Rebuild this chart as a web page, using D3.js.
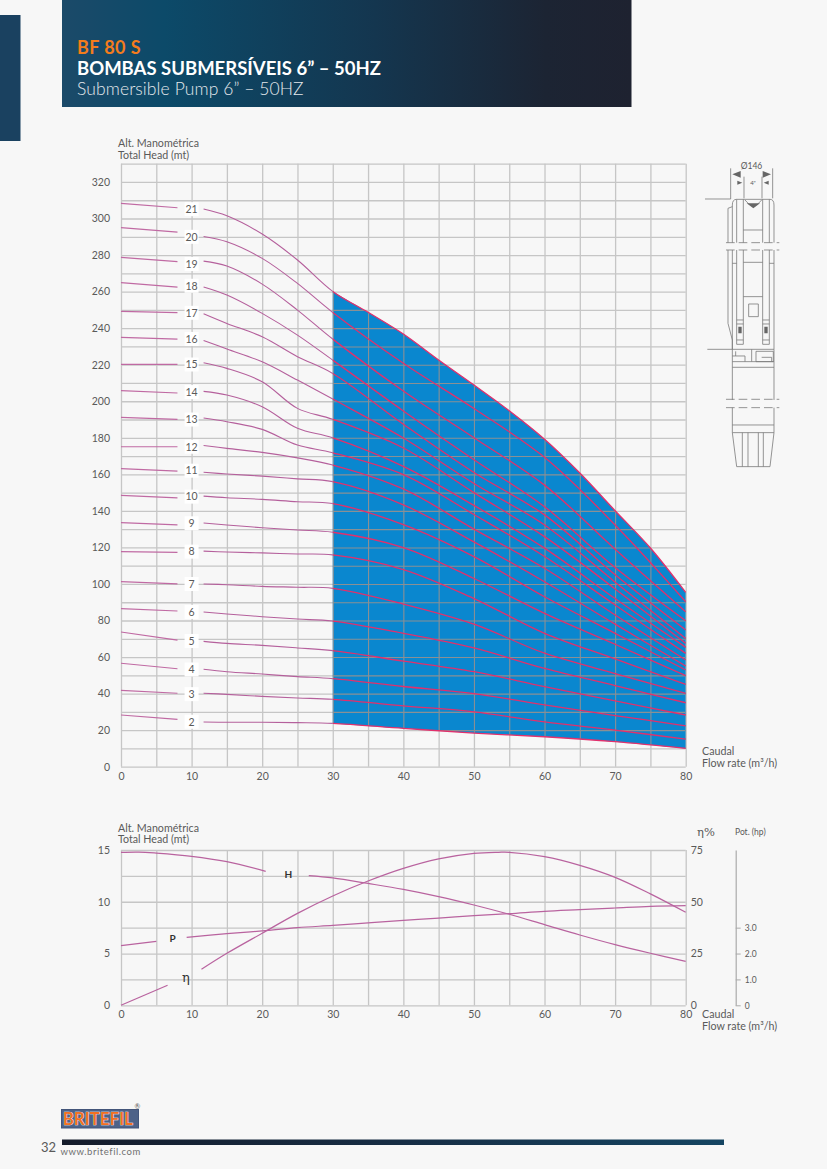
<!DOCTYPE html>
<html><head><meta charset="utf-8">
<script src="https://cdn.jsdelivr.net/npm/d3@7/dist/d3.min.js"></script>
<style>
html,body{margin:0;padding:0;background:#f7f7f7}
svg{display:block}
text{font-family:Lato,"Open Sans",sans-serif;fill:#5a5a5a}
</style></head><body><div id="chart"></div>
<script>
// ---------- data ----------
const flowTicks=[0,10,20,30,40,50,60,70,80];
const headTicksMain=d3.range(0,331,10);
const flow=[0,8,11.7,15,20,25,30,40,50,60,70,80];
const flow21=[0,8,11.7,15,20,25,30,35,40,45,50,55,60,65,70,75,80];
const stage2=[28.3,25.9,24.5,24.3,24.3,24.1,23.7,21,18.4,16.4,13.7,10];
const stage3=[41.8,40.2,40.2,39.6,38.5,37.6,36.9,33.3,30,24.5,20,15.1];
const stage4=[56.6,53.6,53.3,52,50.7,49.3,48.2,43.9,40,33.8,28,22.4];
const stage5=[73.7,69.3,68.6,67.5,66.4,65,63.5,57.8,52,43.8,36,28.3];
const stage6=[86.5,85.2,84.7,83.6,82.1,80.8,79.7,73,65,53.8,44.4,35];
const stage7=[101.3,100,100,99.6,98.7,98.2,97.6,89,78,62.1,51,40.1];
const stage8=[117.7,117.3,118,117.5,117,116.4,115.9,107.9,92,73,59,45];
const stage9=[133.6,132.3,133.4,132.3,130.8,129.5,128.3,119.9,103,83.9,67,49.8];
const stage10=[148.5,147.1,148.1,147.2,146.3,145,144,132.5,115,93,73,52.9];
const stage11=[163.1,161.8,161.1,160.2,159,157.5,156,143.3,123,101.2,78,55.1];
const stage12=[175.1,175.1,175.8,174.2,172,169,165.1,152,130,108.6,83,58.4];
const stage13=[191.2,190.1,190.8,188.8,184.6,176,171.8,159.8,138,115,88.5,62];
const stage14=[205.8,204.5,205.4,203.4,197,185.2,180,164.4,143,119.6,92,65.3];
const stage15=[220.2,220.2,221.1,218,210.7,196.1,190.1,174.4,150,125.9,97.3,67.5];
const stage16=[234.9,234,233.3,228.6,221.6,211.6,201.2,179.9,155,132.3,101,70.2];
const stage17=[249.2,248.5,247.9,242.6,235.3,224.4,215.2,187.4,161,137.8,105,74.8];
const stage18=[264.9,262.5,262.5,258.1,248.1,236.2,222.5,194.7,168,142.3,109,79.9];
const stage19=[278.7,276.4,276.7,274,264.1,249.9,234,205.6,180,154.1,119,84.8];
const stage20=[295,292.6,290.2,287.3,278.2,264.5,248.6,220.8,196,169.3,132.3,90.3];
const stage21=[308.3,305.9,305.2,301.5,291.5,277.3,260.1,248.7,236.8,222.6,208.9,194.8,179.2,160.7,140.1,119.7,95.4];
const stageNames=[2,3,4,5,6,7,8,9,10,11,12,13,14,15,16,17,18,19,20,21];
const stageHeads=[stage2,stage3,stage4,stage5,stage6,stage7,stage8,stage9,stage10,stage11,stage12,stage13,stage14,stage15,stage16,stage17,stage18,stage19,stage20,stage21];
const stageLabelHead=[24.6,39.7,53.2,68.8,84.7,100,117.7,133.2,147.8,162,175.1,190,205,220.1,234.1,248.4,263.2,275.1,290,305.1];

const hFlow=[0,2.5,5,10,15,20.5,26.6,30,35,40,45,50,55,60,65,70,75,80];
const hHead=[14.77,14.8,14.7,14.39,13.87,12.94,12.52,12.3,11.77,11.2,10.5,9.69,8.79,7.79,6.79,5.86,5.03,4.25];
const pFlow=[0,5,9.3,15,20,25,30,35,40,45,50,55,60,65,70,75,80];
const pHead=[5.76,6.18,6.57,6.92,7.18,7.5,7.72,7.96,8.2,8.42,8.66,8.85,9.08,9.24,9.4,9.56,9.62];
const etaFlow=[0,6.6,11.4,15,20,25,30,35,40,45,50,53.5,55,60,65,70,75,80];
const etaPct=[0,9.66,17.4,25.1,34.8,44.4,52.8,60,66.1,70.7,73.4,73.9,73.9,71.8,67.6,61.8,53.8,44.9];
const etaTicks=[0,25,50,75];
const potTicks=[0,1,2,3];

// ---------- page ----------
const W=827,H=1169;
const svg=d3.select('#chart').append('svg').attr('width',W).attr('height',H);
const defs=svg.append('defs');
const g1=defs.append('linearGradient').attr('id','hdr');
[[0,'#1b4a69'],[0.18,'#0c4a69'],[0.55,'#14364f'],[0.85,'#1c2433'],[1,'#1e2230']].forEach(s=>g1.append('stop').attr('offset',s[0]).attr('stop-color',s[1]));
const g2=defs.append('linearGradient').attr('id','bar');
[[0,'#151c2b'],[0.5,'#172d44'],[1,'#154562']].forEach(s=>g2.append('stop').attr('offset',s[0]).attr('stop-color',s[1]));

svg.append('rect').attr('width',W).attr('height',H).attr('fill','#f7f7f7');
svg.append('rect').attr('x',0).attr('y',15).attr('width',20.5).attr('height',126).attr('fill','#1a4160');
svg.append('rect').attr('x',62).attr('y',0).attr('width',569.5).attr('height',107).attr('fill','url(#hdr)');
svg.append('text').attr('x',77).attr('y',53.5).text('BF 80 S').style('font-size','18px').style('font-weight',700).style('letter-spacing','.4px').style('fill','#f47c1c');
svg.append('text').attr('x',77).attr('y',74.5).text('BOMBAS SUBMERSÍVEIS 6” – 50HZ').style('font-size','18.5px').style('font-weight',700).style('fill','#fff');
svg.append('text').attr('x',77).attr('y',95).text('Submersible Pump 6” – 50HZ').style('font-size','17.5px').style('font-weight',300).style('letter-spacing','.1px').style('fill','#e4e8ec');

// ---------- main chart ----------
const xL=121,xR=685.7,yB=766.7,yT=163.7;
const x=d3.scaleLinear().domain([0,80]).range([xL,xR]);
const y=d3.scaleLinear().domain([0,330]).range([yB,yT]);
const smooth=d3.curveCatmullRom.alpha(0.5);
const line=d3.line().x(d=>x(d[0])).y(d=>y(d[1])).curve(smooth);
const zip=(a,b)=>a.map((v,i)=>[v,b[i]]);
const series=stageHeads.map((h,i)=>zip(h.length===flow.length?flow:flow21,h));
const GRID='#c6c6c6',GRIDB='#8a9094';

function grid(g,xs,ysc,yticks,color,w){
  const a=g.append('g');
  a.call(d3.axisLeft(ysc).tickValues(yticks).tickSize(-(xR-xL)).tickFormat(''))
   .attr('transform',`translate(${xL},0)`);
  a.select('.domain').remove();
  a.selectAll('line').attr('stroke',color).attr('stroke-width',w);
  const b=g.append('g');
  b.call(d3.axisBottom(xs).tickValues(d3.range(0,81,5)).tickSize(-(ysc.range()[0]-ysc.range()[1])).tickFormat(''))
   .attr('transform',`translate(0,${ysc.range()[0]})`);
  b.select('.domain').remove();
  b.selectAll('line').attr('stroke',color).attr('stroke-width',w);
}
grid(svg.append('g'),x,y,headTicksMain,GRID,1.3);

// blue operating field
const top21=series[series.length-1].filter(d=>d[0]>=30);
const bot2=series[0].filter(d=>d[0]>=30).slice().reverse();
const fieldPath=line(top21)+'L'+line(bot2).slice(1)+'Z';
svg.append('path').attr('d',fieldPath).attr('fill','#0a87cf');
defs.append('clipPath').attr('id','field').append('path').attr('d',fieldPath);
defs.append('clipPath').attr('id','right').append('rect').attr('x',x(30)).attr('y',0).attr('width',x(80)-x(30)+1).attr('height',H);
defs.append('clipPath').attr('id','left').append('rect').attr('x',0).attr('y',0).attr('width',x(30)).attr('height',H);
grid(svg.append('g').attr('clip-path','url(#field)'),x,y,headTicksMain,GRIDB,1.1);

// stage curves, broken around the label
const gL=svg.append('g').attr('clip-path','url(#left)');
const gR=svg.append('g').attr('clip-path','url(#right)');
series.forEach(s=>{
  const a=s.filter(d=>d[0]<=8), b=s.filter(d=>d[0]>=11.7);
  gL.append('path').attr('d',line(a)).attr('fill','none').attr('stroke','#c06aa3').attr('stroke-width',1.2);
  gL.append('path').attr('d',line(b)).attr('fill','none').attr('stroke','#b5609c').attr('stroke-width',1.1);
  gR.append('path').attr('d',line(b)).attr('fill','none').attr('stroke','#e2306c').attr('stroke-width',1.3);
});
stageNames.forEach((n,i)=>{
  const cy=y(stageLabelHead[i]);
  svg.append('rect').attr('x',x(10)-7).attr('y',cy-7).attr('width',14).attr('height',14).attr('fill','#fff');
  svg.append('text').attr('x',x(10)).attr('y',cy).attr('dy','.36em').attr('text-anchor','middle').text(n).style('font-size','10.5px');
});

// main axis labels
const axY=svg.append('g').attr('transform',`translate(${xL},0)`).call(d3.axisLeft(y).tickValues(d3.range(0,321,20)).tickSize(0).tickPadding(11));
axY.select('.domain').remove();
axY.selectAll('text').style('font-size','10.5px').style('fill','#5a5a5a').style('font-family','Lato');
const axX=svg.append('g').attr('transform',`translate(0,${yB})`).call(d3.axisBottom(x).tickValues(flowTicks).tickSize(0).tickPadding(6));
axX.select('.domain').remove();
axX.selectAll('text').style('font-size','10.5px').style('fill','#5a5a5a').style('font-family','Lato');
function lab(px,py,t,fs){svg.append('text').attr('x',px).attr('y',py).attr('dy','.35em').text(t).style('font-size',(fs||10.7)+'px');}
lab(118,143.5,'Alt. Manométrica');lab(118,155,'Total Head (mt)');
lab(702,751.5,'Caudal');lab(702,763,'Flow rate (m³/h)');

// ---------- lower chart ----------
const y2B=1005.3,y2T=850;
const y2=d3.scaleLinear().domain([0,15]).range([y2B,y2T]);
const yEta=d3.scaleLinear().domain([0,75]).range([y2B,y2T]);
const yPot=d3.scaleLinear().domain([0,6]).range([y2B,y2T]);
grid(svg.append('g'),x,y2,d3.range(0,15.1,2.5),GRID,1.3);
function piece(pts,gap,sc){
  const l=d3.line().x(d=>x(d[0])).y(d=>sc(d[1])).curve(smooth);
  [pts.filter(d=>d[0]<=gap[0]),pts.filter(d=>d[0]>=gap[1])].forEach(p=>
    svg.append('path').attr('d',l(p)).attr('fill','none').attr('stroke','#b9639f').attr('stroke-width',1.2));
}
piece(zip(hFlow,hHead),[20.5,26.6],y2);
piece(zip(pFlow,pHead),[5,9.3],y2);
piece(zip(etaFlow,etaPct),[6.6,11.4],yEta);

const a2L=svg.append('g').attr('transform',`translate(${xL},0)`).call(d3.axisLeft(y2).tickValues([0,5,10,15]).tickSize(0).tickPadding(11));
a2L.select('.domain').remove();
a2L.selectAll('text').style('font-size','10.5px').style('fill','#5a5a5a').style('font-family','Lato');
const a2B=svg.append('g').attr('transform',`translate(0,${y2B})`).call(d3.axisBottom(x).tickValues(flowTicks).tickSize(0).tickPadding(5));
a2B.select('.domain').remove();
a2B.selectAll('text').style('font-size','10.5px').style('fill','#5a5a5a').style('font-family','Lato');
const a2R=svg.append('g').attr('transform',`translate(${xR},0)`).call(d3.axisRight(yEta).tickValues(etaTicks).tickSize(0).tickPadding(5));
a2R.select('.domain').remove();
a2R.selectAll('text').style('font-size','10.5px').style('fill','#5a5a5a').style('font-family','Lato');
const a2P=svg.append('g').attr('transform','translate(735.7,0)').call(d3.axisRight(yPot).tickValues(potTicks).tickSize(5).tickPadding(4).tickSizeOuter(0).tickFormat(d=>d===0?'0':d.toFixed(1)));
a2P.select('.domain').attr('stroke','#aaa').attr('stroke-width',1.2);
a2P.selectAll('line').attr('stroke','#aaa');
a2P.selectAll('text').style('font-size','8.5px').style('fill','#5a5a5a').style('font-family','Lato');
lab(118,828,'Alt. Manométrica');lab(118,839.5,'Total Head (mt)');
lab(702,1014.5,'Caudal');lab(702,1026,'Flow rate (m³/h)');
lab(735,832,'Pot. (hp)',8.5);
svg.append('text').attr('x',697).attr('y',836).text('η%').style('font-size','11.5px').style('font-family','"DejaVu Serif",serif');
svg.append('text').attr('x',288.3).attr('y',878).attr('text-anchor','middle').text('H').style('font-size','10px').style('font-weight',700).style('fill','#333');
svg.append('text').attr('x',172.7).attr('y',942).attr('text-anchor','middle').text('P').style('font-size','10px').style('font-weight',700).style('fill','#333');
svg.append('text').attr('x',186).attr('y',982).attr('text-anchor','middle').text('η').style('font-size','13px').style('font-family','"DejaVu Serif",serif').style('fill','#333');

// ---------- pump schematic ----------
const p=svg.append('g').attr('transform','translate(690,150) scale(0.3333)').attr('fill','none').attr('stroke','#7a7a7a').attr('stroke-width',2.4);
const pumpPaths=['M122 55V147H45','M248 55V145','M162 80V145','M216 80V145',
'M127 278V165Q127 148 140 148H240Q252 148 252 165V278','M114 278V175L127 170','M140 148V278M160 148V278M218 148V278M238 148V278','M160 240H218',
'M165 150Q190 185 215 150','M114 300V520L127 570V598','M127 300V598','M252 300V598','M140 300V510M160 300V510M218 300V510M238 300V510',
'M160 337H218M160 440H218M127 340H140M238 340H252','M176 462H205V500H176Z','M140 510H160V583H140ZM218 510H238V583H218Z','M140 522H160M140 570H160M218 522H238M218 570H238',
'M52 598H252','M127 598V750M252 598V750','M127 635H252M127 652H252','M137 604V618H165V635M127 618H137','M185 598V635M198 604H250V635H198ZM215 622H245V635',
'M127 773V848L140 950H240L252 848V773','M127 825H252M127 848H252','M157 848V950M174 848V950M205 848V950M220 848V950'];
pumpPaths.forEach(d=>p.append('path').attr('d',d));
['M108 278H268','M108 300H268','M108 748H268','M108 773H268'].forEach(d=>p.append('path').attr('d',d).attr('stroke-dasharray','26 12'));
['M127 73L152 63V83Z','M243 73L218 63V83Z','M142 92L157 98L142 104Z','M236 92L221 98L236 104Z','M145 530H155V550H145ZM223 530H233V550H223Z','M170 160H210L190 175Z'].forEach(d=>p.append('path').attr('d',d).attr('fill','#666').attr('stroke','none'));
svg.append('text').attr('x',751.5).attr('y',169).attr('text-anchor','middle').text('Ø146').style('font-size','8.5px');
svg.append('text').attr('x',753).attr('y',185).attr('text-anchor','middle').text('4"').style('font-size','6px');

// ---------- footer ----------
svg.append('rect').attr('x',61.5).attr('y',1109.5).attr('width',77).attr('height',18.5).attr('fill','#4d6288').attr('stroke','#43557a');
svg.append('text').attr('x',98).attr('y',1124.5).attr('text-anchor','middle').text('BRITEFIL').style('font-size','16.5px').style('font-weight',700).style('fill','#f37021').style('stroke','#fff').style('stroke-width',0.7).style('letter-spacing','.2px').attr('paint-order','stroke');
svg.append('text').attr('x',134.5).attr('y',1108.5).text('®').style('font-size','7px');
svg.append('text').attr('x',41).attr('y',1147).attr('dy','.35em').text('32').style('font-size','13px');
svg.append('rect').attr('x',62).attr('y',1139.5).attr('width',662).attr('height',5.5).attr('fill','url(#bar)');
svg.append('text').attr('x',60.5).attr('y',1155).text('www.britefil.com').style('font-size','9.5px').style('letter-spacing','.55px').style('fill','#707070');
</script></body></html>
